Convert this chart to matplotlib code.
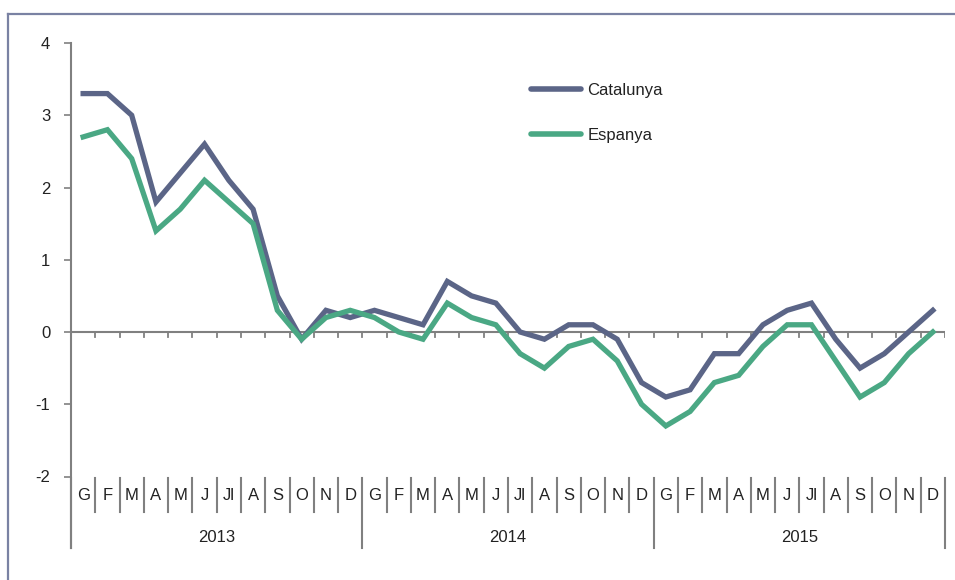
import numpy as np
import matplotlib
matplotlib.use("Agg")
import matplotlib.pyplot as plt
from matplotlib.lines import Line2D
import matplotlib.transforms as mtransforms

months = ["G", "F", "M", "A", "M", "J", "Jl", "A", "S", "O", "N", "D"]
years = ["2013", "2014", "2015"]

catalunya = [3.3, 3.3, 3.0, 1.8, 2.2, 2.6, 2.1, 1.7, 0.5, -0.1, 0.3, 0.2,
             0.3, 0.2, 0.1, 0.7, 0.5, 0.4, 0.0, -0.1, 0.1, 0.1, -0.1, -0.7,
             -0.9, -0.8, -0.3, -0.3, 0.1, 0.3, 0.4, -0.1, -0.5, -0.3, 0.0, 0.3]
espanya = [2.7, 2.8, 2.4, 1.4, 1.7, 2.1, 1.8, 1.5, 0.3, -0.1, 0.2, 0.3,
           0.2, 0.0, -0.1, 0.4, 0.2, 0.1, -0.3, -0.5, -0.2, -0.1, -0.4, -1.0,
           -1.3, -1.1, -0.7, -0.6, -0.2, 0.1, 0.1, -0.4, -0.9, -0.7, -0.3, 0.0]

plt.rcParams['font.family'] = ['Liberation Sans', 'DejaVu Sans']
FS = 12

W, H = 955, 580
fig = plt.figure(figsize=(W / 100, H / 100), dpi=100)
ax_l, ax_r, ax_t, ax_b = 71, 945, 43, 476.5
ax = fig.add_axes([ax_l / W, 1 - ax_b / H, (ax_r - ax_l) / W, (ax_b - ax_t) / H])

n = len(catalunya)
x = np.arange(n)
c_cat = "#5b6587"
c_esp = "#4aa884"
ax.plot(x, catalunya, color=c_cat, lw=3.8, solid_joinstyle='miter', label="Catalunya", zorder=3)
ax.plot(x, espanya, color=c_esp, lw=3.8, solid_joinstyle='miter', label="Espanya", zorder=3)

ax.set_xlim(-0.5, n - 0.5)
ax.set_ylim(-2, 4)
ax.set_yticks(range(-2, 5))
ax.set_yticklabels([str(v) for v in range(-2, 5)], fontsize=FS, color="#222222")
ax.tick_params(axis='y', direction='out', length=5, width=1.2, color="#808080", pad=10)
ax.set_xticks([])
for s in ["top", "right", "bottom", "left"]:
    ax.spines[s].set_visible(False)

axis_col = "#808080"
trans = mtransforms.blended_transform_factory(ax.transData, ax.transAxes)
# left axis line, extending below
ax.plot([-0.5, -0.5], [-0.165, 1.0], transform=trans, color=axis_col, lw=1.5, clip_on=False)
# zero line with ticks
ax.axhline(0, color=axis_col, lw=1.5, zorder=1)
tick_len = 5 / (ax_b - ax_t) * 6
for k in range(n + 1):
    ax.plot([k - 0.5, k - 0.5], [0, -tick_len], color=axis_col, lw=1.3, zorder=1)

# category separators and labels
for k in range(n + 1):
    xb = k - 0.5
    if k % 12 == 0:
        ax.plot([xb, xb], [-0.003, -0.165], transform=trans, color=axis_col, lw=1.5, clip_on=False)
    else:
        ax.plot([xb, xb], [-0.003, -0.082], transform=trans, color=axis_col, lw=1.5, clip_on=False)
for k in range(n):
    ax.text(k, -0.043, months[k % 12], transform=trans, ha='center', va='center',
            fontsize=FS, color="#222222")
for i, yr in enumerate(years):
    ax.text(12 * i + 5.5, -0.14, yr, transform=trans, ha='center', va='center',
            fontsize=FS, color="#222222")

leg = ax.legend(loc='upper left', bbox_to_anchor=(523 / W, 1 - 75 / H),
                bbox_transform=fig.transFigure, frameon=False, fontsize=FS,
                handlelength=3.0, handletextpad=0.35, labelspacing=1.8, borderpad=0)
for t in leg.get_texts():
    t.set_color("#222222")
for h in leg.get_lines():
    h.set_solid_capstyle('round')
    h.set_linewidth(4.0)

# outer frame
frame_col = "#7a82a3"
fig.add_artist(Line2D([8 / W, 1.0], [1 - 14 / H, 1 - 14 / H], transform=fig.transFigure,
                      color=frame_col, lw=1.6))
fig.add_artist(Line2D([8 / W, 8 / W], [1 - 14 / H, 0], transform=fig.transFigure,
                      color=frame_col, lw=1.6))

fig.savefig("out.png", dpi=100)
